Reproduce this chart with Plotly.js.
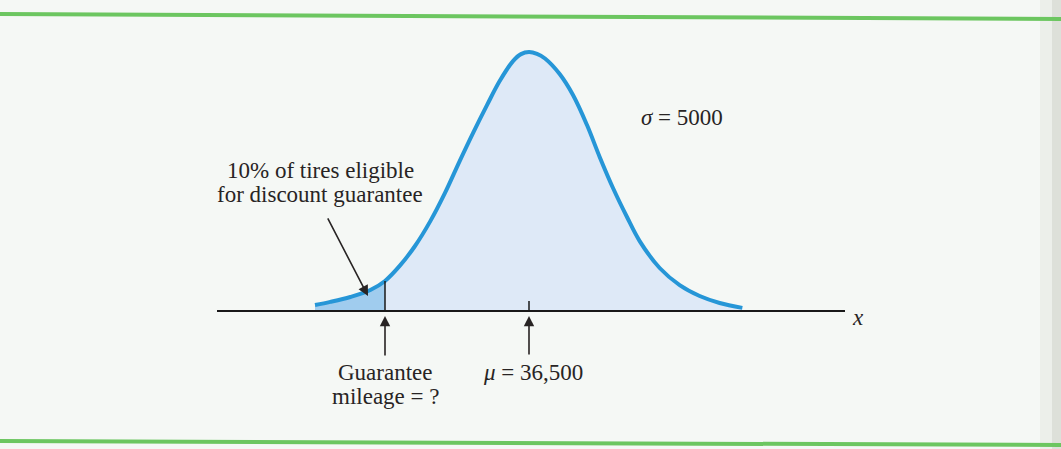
<!DOCTYPE html>
<html>
<head>
<meta charset="utf-8">
<script src="https://cdn.plot.ly/plotly-3.0.1.min.js"></script>
<style>
  html, body { margin: 0; padding: 0; background: #f5f8f5; }
  #chart { width: 1061px; height: 449px; }
</style>
</head>
<body>
<div id="chart"></div>
<script>
// Tire mileage distribution (mean 36,500, sigma 5000), drawn as a relative-height curve
const mileage = [20450, 21600, 23100, 24600, 25700, 26800, 27950, 29100, 30200, 31300,
                 32300, 33350, 34300, 35300, 35900, 36500, 37100, 37700, 38800, 39800,
                 40850, 41800, 42800, 43850, 44800, 46300, 47800, 49300, 50800, 52500];
const relHeight = [0.023, 0.035, 0.054, 0.081, 0.116, 0.174, 0.251, 0.347, 0.456, 0.579,
                   0.687, 0.795, 0.888, 0.965, 0.992, 1.000, 0.993, 0.975, 0.915, 0.834,
                   0.718, 0.595, 0.475, 0.363, 0.270, 0.166, 0.100, 0.058, 0.031, 0.012];
const meanMileage = 36500;
const guaranteeMileage = 25700;
const axisStart = 13100;
const axisEnd = 60200;

const gIdx = mileage.indexOf(guaranteeMileage);
const tailX = mileage.slice(0, gIdx + 1);
const tailY = relHeight.slice(0, gIdx + 1);
const guaranteeHeight = relHeight[gIdx];

const ink = 'rgb(40,36,36)';
const serif = 'Liberation Serif, Times New Roman, serif';
const curveBlue = 'rgb(38,150,215)';

const traces = [
  { // body fill
    x: mileage, y: relHeight, type: 'scatter', mode: 'lines',
    line: { width: 0, shape: 'spline', smoothing: 1 },
    fill: 'tozeroy', fillcolor: 'rgb(222,233,247)', hoverinfo: 'skip'
  },
  { // lower tail (10% region)
    x: tailX, y: tailY, type: 'scatter', mode: 'lines',
    line: { width: 0, shape: 'spline', smoothing: 1 },
    fill: 'tozeroy', fillcolor: 'rgb(160,204,238)', hoverinfo: 'skip'
  },
  { // curve outline
    x: mileage, y: relHeight, type: 'scatter', mode: 'lines',
    line: { width: 4, color: curveBlue, shape: 'spline', smoothing: 1 },
    hoverinfo: 'skip'
  }
];

function label(text, x, y, opts) {
  return Object.assign({
    text: text, x: x, y: y, xref: 'x', yref: 'y', showarrow: false,
    xanchor: 'center', yanchor: 'middle',
    font: { family: serif, size: 23, color: ink }
  }, opts || {});
}

function arrow(x, y, ax, ay) {
  return {
    text: '', x: x, y: y, ax: ax, ay: ay, xref: 'x', yref: 'y', axref: 'x', ayref: 'y',
    showarrow: true, arrowhead: 2, arrowsize: 1.3, arrowwidth: 1.6, arrowcolor: ink, standoff: 0
  };
}

const annotations = [
  label('10% of tires eligible', 20825, 0.544),
  label('for discount guarantee', 20825, 0.448),
  label('<i>σ</i> = 5000', 47975, 0.749),
  label('Guarantee', guaranteeMileage, -0.236),
  label('mileage = ?', guaranteeMileage, -0.332),
  label('<i>μ</i> = 36,500', meanMileage, -0.239, { xshift: 4 }),
  label('<i>x</i>', 61175, -0.027),
  arrow(guaranteeMileage, -0.019, guaranteeMileage, -0.178),
  arrow(meanMileage, -0.019, meanMileage, -0.174),
  arrow(24425, 0.058, 21350, 0.363)
];

const shapes = [
  // horizontal axis
  { type: 'line', xref: 'x', yref: 'y', x0: axisStart, x1: axisEnd, y0: 0, y1: 0,
    line: { color: 'rgb(25,25,25)', width: 2 } },
  // guarantee mileage marker
  { type: 'line', xref: 'x', yref: 'y', x0: guaranteeMileage, x1: guaranteeMileage, y0: 0, y1: guaranteeHeight,
    line: { color: 'rgb(25,25,25)', width: 1.5 } },
  // mean tick
  { type: 'line', xref: 'x', yref: 'y', x0: meanMileage, x1: meanMileage, y0: 0, y1: 0.039,
    line: { color: 'rgb(25,25,25)', width: 1.5 } },
  // green rules above and below the figure
  { type: 'line', xref: 'paper', yref: 'paper', x0: 0, x1: 1, y0: 1 - 14 / 449, y1: 1 - 19 / 449,
    line: { color: 'rgb(108,198,96)', width: 4 } },
  { type: 'line', xref: 'paper', yref: 'paper', x0: 0, x1: 1, y0: 1 - 441 / 449, y1: 1 - 445 / 449,
    line: { color: 'rgb(108,198,96)', width: 4 } },
  // page edge shading
  { type: 'rect', xref: 'paper', yref: 'paper', x0: 1040 / 1061, x1: 1, y0: 0, y1: 1,
    fillcolor: 'rgba(205,208,195,0.22)', line: { width: 0 }, layer: 'below' },
  { type: 'rect', xref: 'paper', yref: 'paper', x0: 1052 / 1061, x1: 1, y0: 0, y1: 1,
    fillcolor: 'rgba(195,198,185,0.35)', line: { width: 0 }, layer: 'below' }
];

const layout = {
  width: 1061, height: 449,
  margin: { l: 0, r: 0, t: 0, b: 0 },
  paper_bgcolor: 'rgb(245,248,245)', plot_bgcolor: 'rgba(0,0,0,0)',
  showlegend: false,
  xaxis: { range: [-3175, 76400], visible: false, fixedrange: true },
  yaxis: { range: [-0.533, 1.201], visible: false, fixedrange: true },
  annotations: annotations,
  shapes: shapes
};

Plotly.newPlot('chart', traces, layout, { displayModeBar: false, staticPlot: true });
</script>
</body>
</html>
